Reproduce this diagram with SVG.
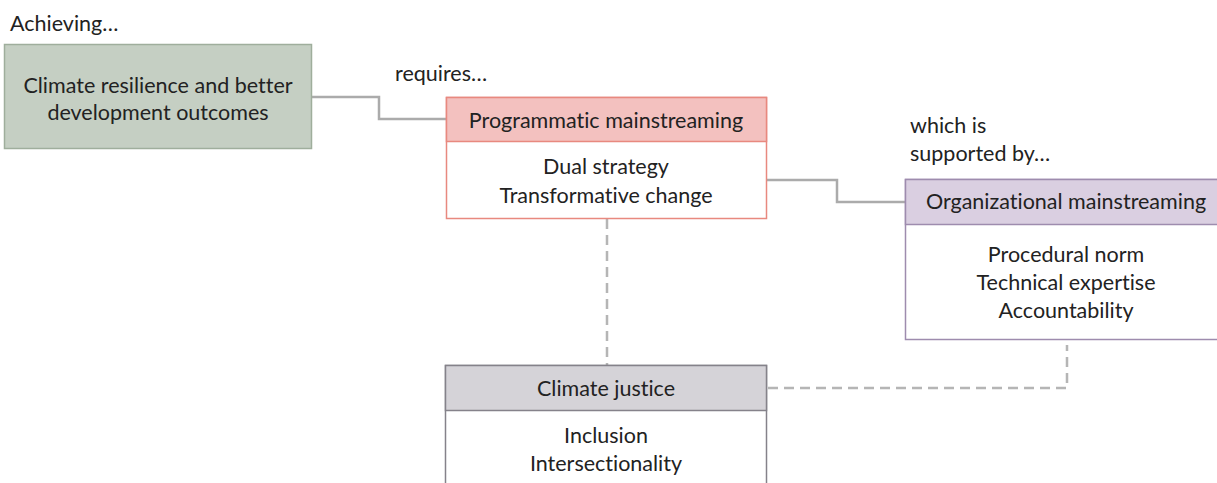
<svg xmlns="http://www.w3.org/2000/svg" width="1217" height="483" viewBox="0 0 1217 483">
  <style>
    text { font-family: Lato, "Open Sans", "Liberation Sans", sans-serif; font-size: 21.5px; fill: #222222; font-variant-ligatures: none; }
    .c { text-anchor: middle; }
    .solid { fill: none; stroke: #ababab; stroke-width: 2.5; }
    .dash { fill: none; stroke: #b5b5b5; stroke-width: 2.5; stroke-dasharray: 10 6; }
  </style>
  <rect width="1217" height="483" fill="#ffffff"/>

  <!-- connectors -->
  <g id="connectors">
    <polyline class="solid" points="312,97 379,97 379,119 446,119"/>
    <polyline class="solid" points="767,180 837,180 837,202 905,202"/>
    <polyline class="dash" points="607,219 607,365"/>
    <polyline class="dash" points="768,388 1067,388 1067,345"/>
  </g>

  <!-- free labels -->
  <g id="labels">
    <text x="10" y="31">Achieving…</text>
    <text x="395" y="81">requires…</text>
    <text x="910" y="133">which is</text>
    <text x="910" y="161">supported by…</text>
  </g>

  <g id="outcome">
    <rect x="4.5" y="44.5" width="307" height="104" fill="#c5cfc3" stroke="#9fae9c" stroke-width="1.5"/>
    <text class="c" x="158" y="93">Climate resilience and better</text>
    <text class="c" x="158" y="120">development outcomes</text>
  </g>

  <g id="programmatic">
    <rect x="446.5" y="97.5" width="320" height="121" fill="#ffffff" stroke="#e8897f" stroke-width="1.5"/>
    <rect x="446.5" y="97.5" width="320" height="44" fill="#f3c1bf" stroke="#e8897f" stroke-width="1.5"/>
    <text class="c" x="606" y="128">Programmatic mainstreaming</text>
    <text class="c" x="606" y="174">Dual strategy</text>
    <text class="c" x="606" y="203">Transformative change</text>
  </g>

  <g id="organizational">
    <rect x="905.5" y="179.5" width="320" height="160" fill="#ffffff" stroke="#9e8cae" stroke-width="1.5"/>
    <rect x="905.5" y="179.5" width="320" height="45" fill="#dacfe1" stroke="#9e8cae" stroke-width="1.5"/>
    <text class="c" x="1066" y="209">Organizational mainstreaming</text>
    <text class="c" x="1066" y="262">Procedural norm</text>
    <text class="c" x="1066" y="290">Technical expertise</text>
    <text class="c" x="1066" y="318">Accountability</text>
  </g>

  <g id="justice">
    <rect x="445.5" y="365.5" width="321" height="130" fill="#ffffff" stroke="#85828a" stroke-width="1.5"/>
    <rect x="445.5" y="365.5" width="321" height="45" fill="#d5d3d8" stroke="#85828a" stroke-width="1.5"/>
    <text class="c" x="606" y="396">Climate justice</text>
    <text class="c" x="606" y="443">Inclusion</text>
    <text class="c" x="606" y="471">Intersectionality</text>
  </g>
</svg>
